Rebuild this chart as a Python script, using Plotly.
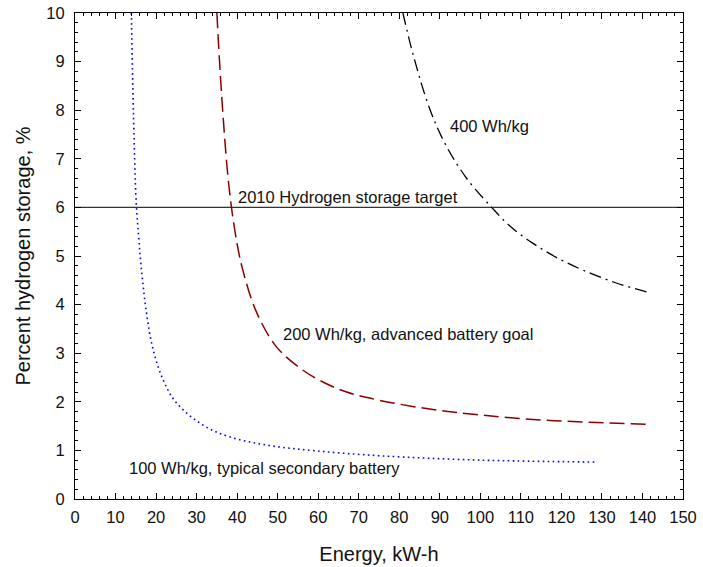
import plotly.graph_objects as go

# Data
blue_x = [13.9, 14.4, 15.1, 15.7, 16.3, 17.6, 19.2, 21.7, 25.0, 31.6, 38.1, 48.0, 59.6, 75.2, 100.0, 128.6]
blue_y = [10.0, 8.0, 6.1, 5.4, 4.8, 3.85, 3.1, 2.46, 1.98, 1.52, 1.28, 1.10, 0.99, 0.89, 0.80, 0.76]

red_x = [35.0, 35.8, 36.6, 37.6, 38.6, 40.0, 41.4, 44.7, 49.7, 55.4, 60.4, 67.0, 75.2, 87.5, 99.9, 116.2, 141.0]
red_y = [10.0, 8.8, 7.8, 6.75, 6.0, 5.25, 4.71, 3.86, 3.13, 2.70, 2.44, 2.20, 2.03, 1.85, 1.73, 1.62, 1.54]

black_x = [80.9, 83.4, 87.5, 91.5, 96.6, 102.8, 107.5, 113.0, 119.0, 125.3, 133.0, 141.0]
black_y = [10.0, 9.15, 8.03, 7.28, 6.60, 6.0, 5.6, 5.26, 4.96, 4.71, 4.46, 4.26]

target_x = [0, 150]
target_y = [6, 6]

labels = ["400 Wh/kg", "2010 Hydrogen storage target",
          "200 Wh/kg, advanced battery goal", "100 Wh/kg, typical secondary battery"]
label_x = [92.0, 39.6, 50.9, 12.9]
label_y = [7.67, 6.22, 3.40, 0.64]

FONT = "Liberation Sans, Arial, sans-serif"

fig = go.Figure()
fig.add_trace(go.Scatter(x=target_x, y=target_y, mode="lines",
                         line=dict(color="#333333", width=1.2), showlegend=False))
fig.add_trace(go.Scatter(x=blue_x, y=blue_y, mode="lines", line_shape="spline",
                         line=dict(color="#0000ff", width=1.6, dash="1.6px,3.4px"), showlegend=False))
fig.add_trace(go.Scatter(x=red_x, y=red_y, mode="lines", line_shape="spline",
                         line=dict(color="#8b0000", width=1.5, dash="15px,6px"), showlegend=False))
fig.add_trace(go.Scatter(x=black_x, y=black_y, mode="lines", line_shape="spline",
                         line=dict(color="#000000", width=1.3, dash="12px,5px,2px,5px"), showlegend=False))

for t, x, y in zip(labels, label_x, label_y):
    fig.add_annotation(x=x, y=y, text=t, showarrow=False, xanchor="left", yanchor="middle",
                       font=dict(family=FONT, size=16.5, color="#111111"))

axis_common = dict(showline=True, linecolor="black", linewidth=1, mirror="ticks",
                   ticks="inside", ticklen=6, tickcolor="black", tickwidth=1,
                   showgrid=False, zeroline=False, automargin=False,
                   tickfont=dict(family=FONT, size=16.5, color="#111111"))

fig.update_xaxes(range=[0, 150], dtick=10, tick0=0, ticklabelstandoff=3,
                 minor=dict(dtick=2, ticks="inside", ticklen=3, tickcolor="black", showgrid=False),
                 title=dict(text="Energy, kW-h", font=dict(family=FONT, size=20, color="#111111"), standoff=22),
                 **axis_common)
fig.update_yaxes(range=[0, 10], dtick=1, tick0=0, ticklabelstandoff=6,
                 minor=dict(dtick=0.2, ticks="inside", ticklen=3, tickcolor="black", showgrid=False),
                 title=dict(text="Percent hydrogen storage, %", font=dict(family=FONT, size=20, color="#111111"), standoff=10),
                 **axis_common)

fig.update_layout(width=703, height=567, margin=dict(l=75, r=20, t=13, b=68),
                  plot_bgcolor="white", paper_bgcolor="white", showlegend=False)

fig.write_html("out.html")
